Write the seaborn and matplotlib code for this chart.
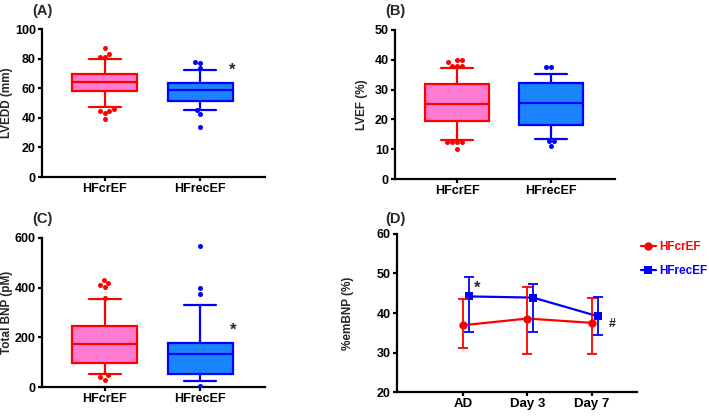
import numpy as np
import pandas as pd
import matplotlib
matplotlib.use('Agg')
import matplotlib.pyplot as plt
import seaborn as sns

sns.set_style('ticks')
plt.rcParams['font.family'] = ['Liberation Sans', 'DejaVu Sans']
plt.rcParams['font.weight'] = 'bold'
plt.rcParams['axes.labelweight'] = 'bold'

groups = ['HFcrEF', 'HFrecEF']
fills = {'HFcrEF': '#ff7ad2', 'HFrecEF': '#1a84ff'}
edges = {'HFcrEF': '#ff0000', 'HFrecEF': '#0000ff'}

# box summaries: [whisker low, Q1, median, Q3, whisker high]
lvedd_cr = [47.3, 58.1, 64.5, 69.5, 80.0]
lvedd_rec = [45.0, 51.1, 58.8, 63.6, 72.2]
lvedd_out_cr = [87.0, 83.3, 81.4, 81.4, 46.2, 44.6, 43.0, 44.8, 39.0]
lvedd_out_rec = [78.0, 77.1, 73.5, 45.2, 42.8, 34.0]

lvef_cr = [13.0, 19.3, 25.1, 31.9, 37.1]
lvef_rec = [13.4, 18.0, 25.5, 32.2, 35.1]
lvef_out_cr = [40.1, 40.1, 39.2, 37.9, 37.9, 37.9, 12.5, 12.5, 12.5, 12.5, 10.1]
lvef_out_rec = [37.5, 37.5, 12.6, 12.6, 11.1]

bnp_cr = [54, 98, 174, 245, 353]
bnp_rec = [24, 51, 132, 179, 329]
bnp_out_cr = [431, 418, 410, 402, 357, 47, 40, 30]
bnp_out_rec = [569, 398, 376, 5]

# panel D: %emBNP
days = ['AD', 'Day 3', 'Day 7']
em_cr = [36.9, 38.6, 37.5]
em_cr_lo = [31.2, 29.7, 29.7]
em_cr_hi = [43.6, 46.5, 43.9]
em_rec = [44.2, 43.9, 39.2]
em_rec_lo = [35.2, 35.2, 34.4]
em_rec_hi = [49.2, 47.3, 44.1]

fig = plt.figure(figsize=(7.09, 4.19), dpi=100)

W, H = 709, 419
def px_axes(left, top, right, bottom):
    return fig.add_axes([left / W, (H - bottom) / H, (right - left) / W, (bottom - top) / H])

axA = px_axes(42, 29, 265, 177)
axB = px_axes(395, 30, 615, 179)
axC = px_axes(42, 238, 265, 387)
axD = px_axes(397, 234, 637, 392)


def style_ax(ax, pad):
    sns.despine(ax=ax)
    for s in ['left', 'bottom']:
        ax.spines[s].set_linewidth(1.6)
        ax.spines[s].set_color('black')
    ax.tick_params(width=1.6, length=3, labelsize=9, colors='black', pad=1.5)
    ax.yaxis.labelpad = pad
    for t in ax.get_xticklabels() + ax.get_yticklabels():
        t.set_fontweight('bold')


def box_panel(ax, boxes, outs, ylabel, ylim, yticks, pad):
    for g, vals, out in zip(groups, boxes, outs):
        df = pd.DataFrame({'g': g, 'v': vals})
        sns.boxplot(data=df, x='g', y='v', order=groups, ax=ax, whis=(0, 100),
                    width=0.68, color=fills[g], linecolor=edges[g], linewidth=1.6,
                    saturation=1, showfliers=False)
        od = pd.DataFrame({'g': g, 'v': out})
        sns.swarmplot(data=od, x='g', y='v', order=groups, ax=ax, color=edges[g], size=3.6)
    ax.set_xlim(-0.66, 1.68)
    ax.set_ylim(*ylim)
    ax.set_yticks(yticks)
    ax.set_xlabel('')
    ax.set_ylabel(ylabel, fontsize=8.5, fontweight='bold')
    style_ax(ax, pad)


box_panel(axA, [lvedd_cr, lvedd_rec], [lvedd_out_cr, lvedd_out_rec],
          'LVEDD (mm)', (0, 100), [0, 20, 40, 60, 80, 100], 1)
axA.text(1.34, 72.0, '*', fontsize=12, fontweight='bold', ha='center', va='center')

box_panel(axB, [lvef_cr, lvef_rec], [lvef_out_cr, lvef_out_rec],
          'LVEF (%)', (0, 50), [0, 10, 20, 30, 40, 50], 5)

box_panel(axC, [bnp_cr, bnp_rec], [bnp_out_cr, bnp_out_rec],
          'Total BNP (pM)', (0, 600), [0, 200, 400, 600], 1)
axC.text(1.35, 228, '*', fontsize=12, fontweight='bold', ha='center', va='center')

# panel D
x = np.arange(len(days))
xr = x + 0.09
sns.lineplot(x=x, y=em_cr, ax=axD, color='#ff0000', marker='o', markersize=6,
             markeredgewidth=0, linewidth=1.6, label='HFcrEF')
sns.lineplot(x=xr, y=em_rec, ax=axD, color='#0000ff', marker='s', markersize=6,
             markeredgewidth=0, linewidth=1.6, label='HFrecEF')
axD.errorbar(x, em_cr, yerr=[np.subtract(em_cr, em_cr_lo), np.subtract(em_cr_hi, em_cr)],
             fmt='none', ecolor='#ff0000', elinewidth=1.3, capsize=3.5, capthick=1.3)
axD.errorbar(xr, em_rec, yerr=[np.subtract(em_rec, em_rec_lo), np.subtract(em_rec_hi, em_rec)],
             fmt='none', ecolor='#0000ff', elinewidth=1.3, capsize=3.5, capthick=1.3)
axD.set_xlim(-1.02, 2.7)
axD.set_ylim(20, 60)
axD.set_yticks([20, 30, 40, 50, 60])
axD.set_xticks(x)
axD.set_xticklabels(days)
axD.set_ylabel('%emBNP (%)', fontsize=8.5, fontweight='bold')
style_ax(axD, 16)
axD.tick_params(axis='x', labelsize=9.5)
axD.text(0.22, 46.3, '*', fontsize=12, fontweight='bold', ha='center', va='center')
axD.text(2.31, 37.3, '#', fontsize=9, fontweight='bold', ha='center', va='center')
leg = axD.legend(loc='upper left', bbox_to_anchor=(0.995, 0.985), frameon=False,
                 handlelength=1.3, handletextpad=0.25, labelspacing=1.0,
                 labelcolor='linecolor', prop={'weight': 'bold', 'size': 8.5},
                 borderaxespad=0)

for lab, (xp, yp) in zip(['(A)', '(B)', '(C)', '(D)'],
                         [(32, 11), (385, 11), (32, 219), (385, 219)]):
    fig.text(xp / W, 1 - yp / H, lab, fontsize=10.5, fontweight='bold', va='center', ha='left')

fig.savefig('out.png', dpi=100)
